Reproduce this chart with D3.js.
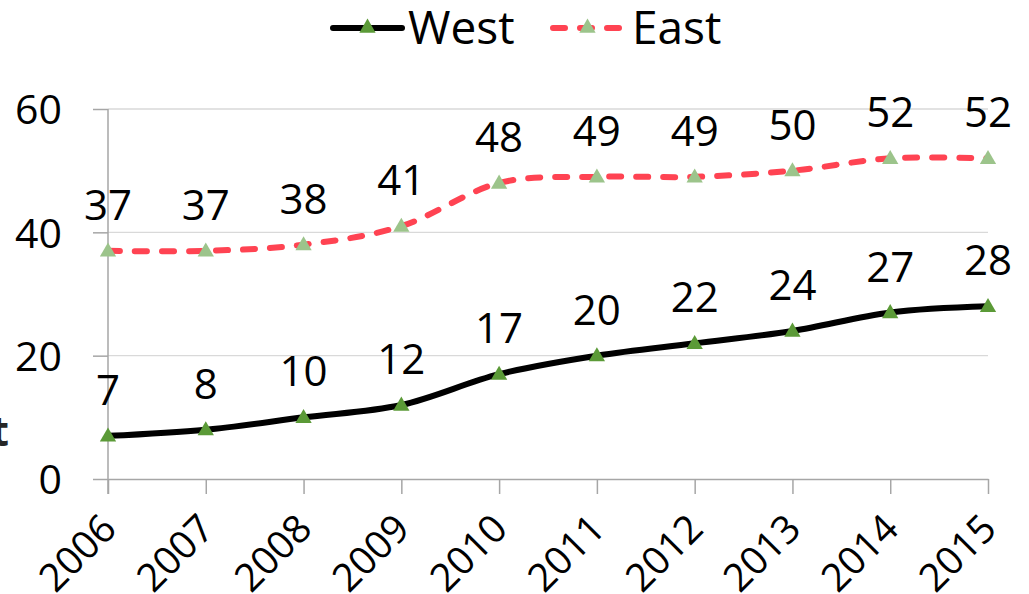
<!DOCTYPE html>
<html>
<head>
<meta charset="utf-8">
<script src="https://cdn.jsdelivr.net/npm/d3@7/dist/d3.min.js"></script>
<style>
  html, body { margin: 0; padding: 0; background: #fff; }
  svg { display: block; font-family: "Open Sans", "Liberation Sans", sans-serif; }
</style>
</head>
<body>
<svg id="chart" width="1029" height="594"></svg>
<script>
// Series data
const years = ["2006", "2007", "2008", "2009", "2010", "2011", "2012", "2013", "2014", "2015"];
const west = [7, 8, 10, 12, 17, 20, 22, 24, 27, 28];
const east = [37, 37, 38, 41, 48, 49, 49, 50, 52, 52];
const yTicks = [0, 20, 40, 60];
const seriesNames = ["West", "East"];

const svg = d3.select("#chart");
const plot = { left: 108, right: 988, top: 109, bottom: 479 };

const x = d3.scalePoint().domain(years).range([plot.left, plot.right]);
const y = d3.scaleLinear().domain([0, 60]).range([plot.bottom, plot.top]);

const axisColor = "#a6a6a6";
const gridColor = "#d9d9d9";
const labelSize = 42;

// Horizontal gridlines
svg.append("g")
  .selectAll("line")
  .data(yTicks.filter(d => d !== 0))
  .join("line")
  .attr("x1", plot.left).attr("x2", plot.right)
  .attr("y1", d => y(d)).attr("y2", d => y(d))
  .attr("stroke", gridColor).attr("stroke-width", 1.3);

// Y axis
const yAxis = svg.append("g")
  .attr("transform", `translate(${plot.left},0)`)
  .call(d3.axisLeft(y).tickValues(yTicks).tickSize(15).tickPadding(31).tickFormat(d3.format("d")));
yAxis.select(".domain").remove();
yAxis.selectAll(".tick line").attr("stroke", axisColor).attr("stroke-width", 1.5);
yAxis.selectAll(".tick text")
  .attr("font-size", 41).attr("fill", "#000")
  .attr("font-family", "Open Sans, sans-serif")
  .attr("dy", "0.36em");
svg.append("line")
  .attr("x1", plot.left).attr("x2", plot.left)
  .attr("y1", plot.top).attr("y2", plot.bottom + 15)
  .attr("stroke", axisColor).attr("stroke-width", 1.5);

// X axis with rotated year labels
const xAxis = svg.append("g")
  .attr("transform", `translate(0,${plot.bottom})`)
  .call(d3.axisBottom(x).tickSize(15).tickSizeOuter(0));
xAxis.select(".domain").attr("stroke", axisColor).attr("stroke-width", 1.5);
xAxis.selectAll(".tick line").attr("stroke", axisColor).attr("stroke-width", 1.5);
xAxis.selectAll(".tick text")
  .attr("font-size", 39).attr("fill", "#000")
  .attr("font-family", "Open Sans, sans-serif")
  .attr("text-anchor", "end")
  .attr("dy", null)
  .attr("x", 0).attr("y", 0)
  .attr("transform", "translate(10,52) rotate(-45)");

// Left label (extends past the edge)
svg.append("text")
  .attr("x", 9).attr("y", 446)
  .attr("text-anchor", "end")
  .attr("font-size", labelSize).attr("font-weight", "bold")
  .attr("fill", "#262626")
  .text("Percent");

const line = d3.line()
  .x((d, i) => x(years[i]))
  .y(d => y(d))
  .curve(d3.curveCardinal.tension(0));

const tri = d3.symbol().type(d3.symbolTriangle).size(115);

const series = [
  { name: seriesNames[0], values: west, stroke: "#000000", dash: null, marker: "#5b9a37" },
  { name: seriesNames[1], values: east, stroke: "#ff4352", dash: "12,15", marker: "#9cc48b" }
];

series.forEach(s => {
  svg.append("path")
    .attr("d", line(s.values))
    .attr("fill", "none")
    .attr("stroke", s.stroke)
    .attr("stroke-width", 6)
    .attr("stroke-linecap", "round")
    .attr("stroke-dasharray", s.dash);

  svg.append("g").selectAll("path")
    .data(s.values)
    .join("path")
    .attr("d", tri)
    .attr("transform", (d, i) => `translate(${x(years[i])},${y(d) + 1})`)
    .attr("fill", s.marker);

  svg.append("g").selectAll("text")
    .data(s.values)
    .join("text")
    .attr("x", (d, i) => x(years[i]))
    .attr("y", d => y(d) - 31)
    .attr("text-anchor", "middle")
    .attr("font-size", labelSize)
    .attr("fill", "#000")
    .text(d => d);
});

// Legend
const legendItems = [
  { s: series[0], x0: 333, x1: 402, tx: 408 },
  { s: series[1], x0: 553, x1: 622, tx: 632 }
];
const ly = 28;
legendItems.forEach(l => {
  svg.append("line")
    .attr("x1", l.x0).attr("x2", l.x1)
    .attr("y1", ly).attr("y2", ly)
    .attr("stroke", l.s.stroke).attr("stroke-width", 6)
    .attr("stroke-linecap", "round")
    .attr("stroke-dasharray", l.s.dash ? "12,15" : null);
  svg.append("path")
    .attr("d", tri)
    .attr("transform", `translate(${(l.x0 + l.x1) / 2},${ly})`)
    .attr("fill", l.s.marker);
  svg.append("text")
    .attr("x", l.tx).attr("y", 44)
    .attr("font-size", 46)
    .attr("fill", "#000")
    .text(l.s.name);
});
</script>
</body>
</html>
